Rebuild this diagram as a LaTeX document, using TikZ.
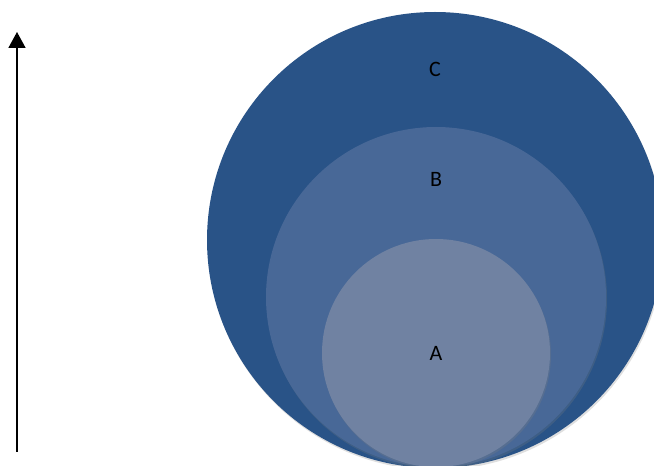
\documentclass[tikz,border=0pt]{standalone}
\usepackage{fontspec}
\setmainfont{Carlito}
\usetikzlibrary{arrows.meta,calc,positioning,shadows}
\definecolor{ringc}{RGB}{41,83,135}
\definecolor{ringb}{RGB}{72,104,151}
\definecolor{ringa}{RGB}{112,130,162}
\begin{document}
\begin{tikzpicture}[x=1pt,y=1pt,font=\fontsize{22}{26}\selectfont,
    ring/.style={circle,inner sep=0pt,drop shadow={shadow xshift=1pt,shadow yshift=-2pt,opacity=.25}},
    lab/.style={anchor=center}]
  \useasboundingbox (0,0) rectangle (654,466);
  \clip (0,0) rectangle (654,466);
  % axis on the left
  \coordinate (ax0) at (17,14);
  \coordinate (ax1) at (17,434);
  \draw[line width=1.7pt,-{Triangle[length=16pt,width=17pt]}] (ax0) -- (ax1);
  % nested sets
  \node[ring,fill=ringc,minimum size=456pt] (c) at (435,226) {};
  \node[ring,fill=ringb,minimum size=340pt] (b) at (436,169) {};
  \node[ring,fill=ringa,minimum size=228pt] (a) at (436,113) {A};
  \node[lab] (clab) at ($(c.north)+(0,-58)$) {C};
  \node[lab] (blab) at ($(b.north)+(0,-53)$) {B};
\end{tikzpicture}
\end{document}
